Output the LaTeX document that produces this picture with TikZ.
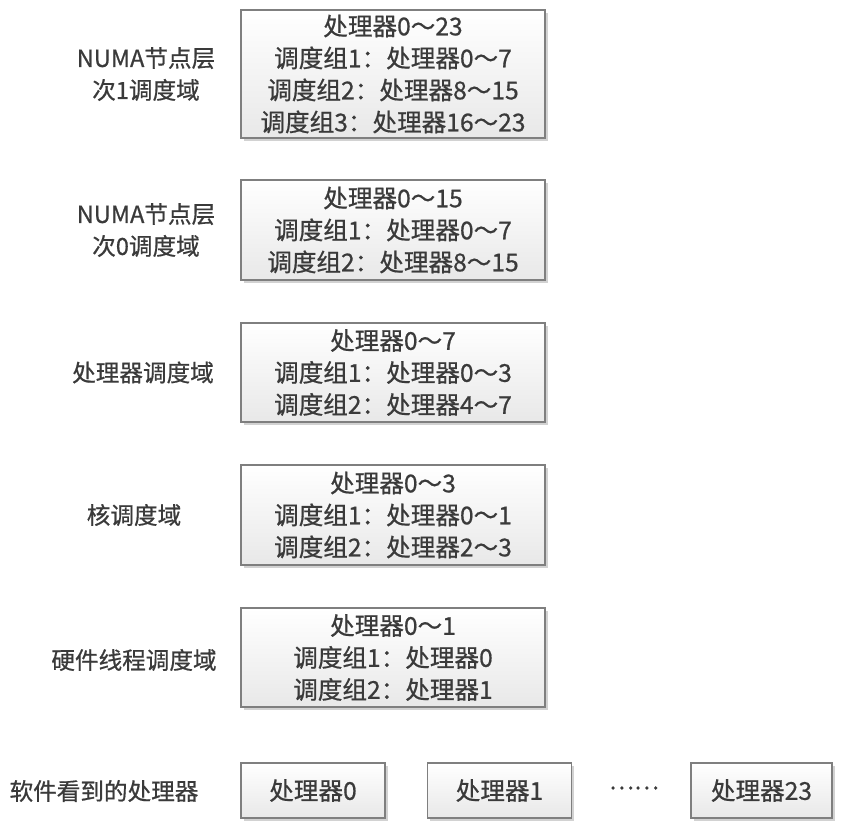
\documentclass[tikz,border=0pt]{standalone}
\usepackage{fontspec}
\setmainfont{Noto Sans CJK SC}[FakeBold=0.7]
\usetikzlibrary{shadows}

\definecolor{txtgray}{HTML}{3A3A3A}
\definecolor{boxline}{HTML}{7F7F7F}

\tikzset{
  domainbox/.style={draw=boxline, line width=0.7pt, top color=white, bottom color=gray!18,
    drop shadow={shadow xshift=1.4pt, shadow yshift=-1.4pt, fill=gray!70, opacity=0.5},
    minimum width=152pt, align=center, inner sep=2pt, text=txtgray,
    font=\fontsize{12.3pt}{16pt}\selectfont},
  cpubox/.style={domainbox, minimum width=72pt, minimum height=27.5pt},
  levellabel/.style={align=center, text=txtgray, font=\fontsize{11.8pt}{16pt}\selectfont}
}

\begin{document}
\begin{tikzpicture}[x=0.5pt, y=-0.5pt]

        \useasboundingbox (0,0) rectangle (842,830);

        % scheduling domains
            \node[domainbox, minimum height=64pt] (numa1) at (393,74) {处理器0～23\\调度组1：处理器0～7\\调度组2：处理器8～15\\调度组3：处理器16～23};
            \node[domainbox, minimum height=50pt] (numa0) at (393,230) {处理器0～15\\调度组1：处理器0～7\\调度组2：处理器8～15};
            \node[domainbox, minimum height=49.5pt] (cpu) at (393,372.5) {处理器0～7\\调度组1：处理器0～3\\调度组2：处理器4～7};
            \node[domainbox, minimum height=50pt] (core) at (393,515) {处理器0～3\\调度组1：处理器0～1\\调度组2：处理器2～3};
            \node[domainbox, minimum height=49.5pt] (smt) at (393,657.5) {处理器0～1\\调度组1：处理器0\\调度组2：处理器1};

        % level names
            \node[levellabel] (numa1name) at (146,74) {NUMA节点层\\次1调度域};
            \node[levellabel] (numa0name) at (146,230) {NUMA节点层\\次0调度域};
            \node[levellabel] (cpuname) at (143,372.5) {处理器调度域};
            \node[levellabel] (corename) at (134,515) {核调度域};
            \node[levellabel] (smtname) at (134,660) {硬件线程调度域};

        % logical processors
            \node[levellabel] (swname) at (104,791) {软件看到的处理器};
            \node[cpubox] (p0) at (313,790.5) {处理器0};
            \node[cpubox] (p1) at (499.5,790.5) {处理器1};
            \node[levellabel] (dots) at (634,788) {……};
            \node[cpubox, minimum width=70.5pt] (p23) at (761.5,790.5) {处理器23};

\end{tikzpicture}
\end{document}
